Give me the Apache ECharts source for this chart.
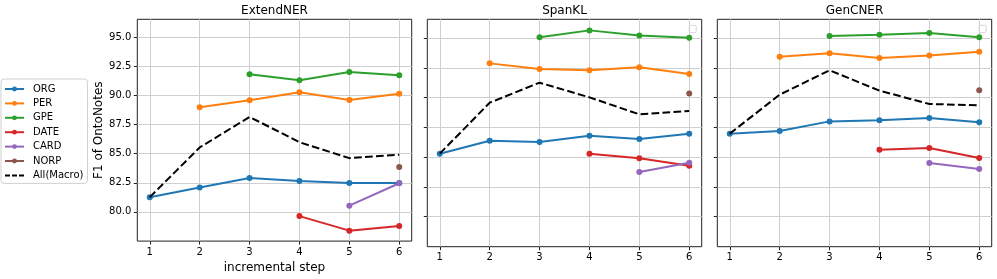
<!DOCTYPE html>
<html>
<head>
<meta charset="utf-8">
<script src="https://cdn.jsdelivr.net/npm/echarts@6/dist/echarts.min.js"></script>
<style>html,body{margin:0;padding:0;background:#fff;}#c{width:997px;height:279px;}</style>
</head>
<body>
<div id="c"></div>
<script>
// ---- data ----
var steps = [1, 2, 3, 4, 5, 6];
var xTicks = [1, 2, 3, 4, 5, 6];
var yTicks = [80.0, 82.5, 85.0, 87.5, 90.0, 92.5, 95.0];
var panelTitles = ['ExtendNER', 'SpanKL', 'GenCNER'];
var seriesNames = ['ORG', 'PER', 'GPE', 'DATE', 'CARD', 'NORP', 'All(Macro)'];

// ExtendNER
var extORG  = [81.26, 82.10, 82.91, 82.66, 82.49, 82.49];
var extPER  = [null, 89.01, 89.60, 90.30, 89.63, 90.16];
var extGPE  = [null, null, 91.84, 91.33, 92.03, 91.75];
var extDATE = [null, null, null, 79.63, 78.38, 78.77];
var extCARD = [null, null, null, null, 80.53, 82.46];
var extNORP = [null, null, null, null, null, 83.86];
var extAll  = [81.26, 85.54, 88.17, 85.99, 84.62, 84.92];

// SpanKL
var spnORG  = [85.29, 86.38, 86.27, 86.80, 86.52, 86.97];
var spnPER  = [null, 92.87, 92.40, 92.29, 92.54, 91.98];
var spnGPE  = [null, null, 95.06, 95.64, 95.22, 95.03];
var spnDATE = [null, null, null, 85.29, 84.90, 84.28];
var spnCARD = [null, null, null, null, 83.75, 84.53];
var spnNORP = [null, null, null, null, null, 90.35];
var spnAll  = [85.29, 89.57, 91.25, 90.02, 88.59, 88.87];

// GenCNER
var genORG  = [86.97, 87.19, 88.00, 88.09, 88.28, 87.92];
var genPER  = [null, 93.43, 93.71, 93.32, 93.54, 93.85];
var genGPE  = [null, null, 95.17, 95.28, 95.42, 95.06];
var genDATE = [null, null, null, 85.62, 85.76, 84.92];
var genCARD = [null, null, null, null, 84.50, 84.00];
var genNORP = [null, null, null, null, null, 90.61];
var genAll  = [86.97, 90.24, 92.29, 90.58, 89.46, 89.35];

var panels = [
  [extORG, extPER, extGPE, extDATE, extCARD, extNORP, extAll],
  [spnORG, spnPER, spnGPE, spnDATE, spnCARD, spnNORP, spnAll],
  [genORG, genPER, genGPE, genDATE, genCARD, genNORP, genAll]
];
var colors = ['#1f77b4', '#ff7f0e', '#2ca02c', '#d62728', '#9467bd', '#8c564b', '#000000'];

// ---- layout ----
var gridLefts = [137.3, 427.3, 717.3];
var gridW = 274.4, gridTop = 19.3, gridH = 227.4;
var FONT = 'DejaVu Sans';

var grids = [], xAxes = [], yAxes = [], series = [], graphics = [];
gridLefts.forEach(function (l, p) {
  grids.push({left: l, top: gridTop, width: gridW, height: gridH, show: true,
    borderColor: '#222', borderWidth: 1, backgroundColor: 'transparent', containLabel: false});
  xAxes.push({
    type: 'value', gridIndex: p, min: 0.75, max: 6.25,
    axisLine: {show: false},
    axisTick: {show: true, length: 3.5, lineStyle: {color: '#222'}, customValues: xTicks},
    axisLabel: {show: true, customValues: xTicks, margin: 6, fontSize: 10, color: '#000', fontFamily: FONT,
      formatter: function (v) { return String(v); }},
    splitLine: {show: true, lineStyle: {color: '#cfcfcf', width: 1}},
    name: p === 0 ? 'incremental step' : '', nameLocation: 'middle', nameGap: 19,
    nameTextStyle: {fontSize: 12, color: '#000', fontFamily: FONT}
  });
  yAxes.push({
    type: 'value', gridIndex: p, min: 77.48, max: 96.57,
    axisLine: {show: false},
    axisTick: {show: true, length: 3.5, lineStyle: {color: '#222'}, customValues: yTicks},
    axisLabel: {show: p === 0, customValues: yTicks, margin: 6, fontSize: 10, color: '#000', fontFamily: FONT,
      formatter: function (v) { return v.toFixed(1); }},
    splitLine: {show: true, lineStyle: {color: '#cfcfcf', width: 1}},
    name: p === 0 ? 'F1 of OntoNotes' : '', nameLocation: 'middle', nameGap: 31,
    nameTextStyle: {fontSize: 12, color: '#000', fontFamily: FONT}
  });
  panels[p].forEach(function (vals, k) {
    var data = steps.map(function (s, i) { return [s, vals[i]]; })
                    .filter(function (d) { return d[1] !== null; });
    var isAll = k === 6;
    series.push({
      name: seriesNames[k], type: 'line', xAxisIndex: p, yAxisIndex: p,
      data: data, color: colors[k],
      symbol: isAll ? 'none' : 'circle', symbolSize: 6, showSymbol: !isAll,
      lineStyle: {width: 2, color: colors[k], type: isAll ? [7.7, 3.3] : 'solid'},
      itemStyle: {color: colors[k]},
      emphasis: {disabled: true}, animation: false, z: isAll ? 3 : 2
    });
  });
  graphics.push({type: 'text', x: l + gridW / 2, y: 10.5,
    style: {text: panelTitles[p], fontSize: 12, fill: '#000', fontFamily: FONT,
      textAlign: 'center', textVerticalAlign: 'middle'}});
  if (p > 0) {
    graphics.push({type: 'rect', shape: {x: l + gridW - 12.5, y: 25.3, width: 7, height: 7.4, r: 1.5},
      style: {fill: '#fff', stroke: '#d6d6d6', lineWidth: 1}});
  }
});

var legendData = seriesNames.map(function (n, k) {
  if (k === 6) {
    return {name: n, icon: 'path://M0,0h5v2h-5z M7,0h5v2h-5z M14,0h5v2h-5z',
      itemStyle: {color: '#000'}};
  }
  return {name: n};
});

var chart = echarts.init(document.getElementById('c'), null, {renderer: 'canvas'});
chart.setOption({
  animation: false,
  textStyle: {fontFamily: FONT},
  color: colors,
  grid: grids, xAxis: xAxes, yAxis: yAxes, series: series,
  legend: {
    data: legendData, orient: 'vertical', left: 1, top: 79,
    itemWidth: 19, itemHeight: 6, itemGap: 4.4, selectedMode: false,
    backgroundColor: '#fff', borderColor: '#d0d0d0', borderWidth: 1, borderRadius: 3,
    padding: [5, 4, 3, 3],
    textStyle: {fontSize: 10, color: '#000', fontFamily: FONT, padding: [0, 0, 0, 4], lineHeight: 10}
  },
  graphic: graphics
});
</script>
</body>
</html>
